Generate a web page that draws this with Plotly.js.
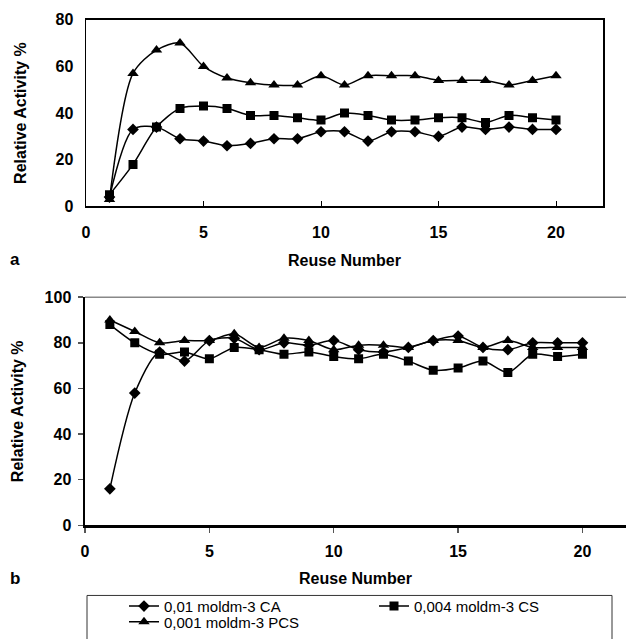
<!DOCTYPE html>
<html>
<head>
<meta charset="utf-8">
<script src="https://cdn.plot.ly/plotly-3.0.1.min.js"></script>
<style>html,body{margin:0;padding:0;background:#fff;}#chart{width:626px;height:639px;}</style>
</head>
<body>
<div id="chart"></div>
<script>
// Reuse numbers
const reuse = [1,2,3,4,5,6,7,8,9,10,11,12,13,14,15,16,17,18,19,20];

// Panel a
const a_CA  = [4,33,34,29,28,26,27,29,29,32,32,28,32,32,30,34,33,34,33,33];
const a_CS  = [5,18,34,42,43,42,39,39,38,37,40,39,37,37,38,38,36,39,38,37];
const a_PCS = [3,57,67,70,60,55,53,52,52,56,52,56,56,56,54,54,54,52,54,56];

// Panel b
const b_CA  = [16,58,76,72,81,82,77,80,79,81,77,76,78,81,83,78,77,80,80,80];
const b_CS  = [88,80,75,76,73,78,77,75,76,74,73,75,72,68,69,72,67,75,74,75];
const b_PCS = [90,85,80,81,81,84,78,82,81,77,79,79,78,81,81,78,81,78,78,78];

const names = ['0,01 moldm-3 CA','0,004 moldm-3 CS','0,001 moldm-3 PCS'];
const symbols = ['diamond','square','triangle-up'];
const sizes = [9,9,10];
const legendIds = ['legend','legend2','legend3'];

const W = 626, H = 639;
const FONT = 'Liberation Sans, Arial, sans-serif';

function tr(y, i, xa, ya, show) {
  return {
    x: reuse, y: y, name: names[i], xaxis: xa, yaxis: ya,
    type: 'scatter', mode: 'lines+markers', showlegend: show, legend: legendIds[i],
    line: {color: '#000', width: 1.5, shape: 'spline', smoothing: 0.8},
    marker: {symbol: symbols[i], size: sizes[i], color: '#000'}
  };
}

const data = [
  tr(a_CA,0,'x','y',true), tr(a_CS,1,'x','y',true), tr(a_PCS,2,'x','y',true),
  tr(b_CA,0,'x2','y2',false), tr(b_CS,1,'x2','y2',false), tr(b_PCS,2,'x2','y2',false)
];

const tickf = {family: FONT, size: 16, color: '#000', weight: 'bold'};
const titf = {family: FONT, size: 16, color: '#000', weight: 'bold'};
const legf = {family: FONT, size: 15, color: '#000'};

function leg(xText, yc) {
  return {orientation: 'v', x: (xText - 40)/W, y: 1 - yc/H, xanchor: 'left', yanchor: 'middle',
          bgcolor: 'rgba(0,0,0,0)', borderwidth: 0, font: legf, itemwidth: 30,
          tracegroupgap: 0};
}

const layout = {
  width: W, height: H,
  margin: {l:0, r:0, t:0, b:0},
  paper_bgcolor: '#fff', plot_bgcolor: '#fff',
  showlegend: true,
  font: {family: FONT, color: '#000'},
  xaxis: {
    domain: [86/W, 603/W], anchor: 'y', range: [0,22], tickvals: [0,5,10,15,20],
    showgrid: false, zeroline: false, showline: true, linecolor: '#000', linewidth: 1.5,
    mirror: true, ticks: 'inside', ticklen: 5, tickcolor: '#000',
    tickfont: tickf, ticklabelstandoff: 11,
    title: {text: 'Reuse Number', font: titf, standoff: 14}
  },
  yaxis: {
    domain: [1-209/H, 1-20/H], anchor: 'x', range: [0,80], tickvals: [0,20,40,60,80],
    showgrid: false, zeroline: false, showline: true, linecolor: '#000', linewidth: 1.5,
    mirror: true, ticks: '', tickfont: tickf, ticklabelstandoff: 8,
    title: {text: 'Relative Activity %', font: titf, standoff: 25}
  },
  xaxis2: {
    domain: [85/W, 1], anchor: 'y2', range: [0,21.75], tickvals: [0,5,10,15,20],
    showgrid: false, zeroline: false, showline: true, linecolor: '#000', linewidth: 2.5,
    ticks: 'outside', ticklen: 5, tickcolor: '#555', tickwidth: 1.5,
    tickfont: tickf, ticklabelstandoff: 5,
    title: {text: 'Reuse Number', font: titf, standoff: 14}
  },
  yaxis2: {
    domain: [1-532/H, 1-301/H], anchor: 'x2', range: [0,100], tickvals: [0,20,40,60,80,100],
    showgrid: false, zeroline: false, showline: true, linecolor: '#000', linewidth: 2.5,
    ticks: 'outside', ticklen: 5, tickcolor: '#555', tickwidth: 1.5,
    tickfont: tickf, ticklabelstandoff: 3,
    title: {text: 'Relative Activity %', font: titf, standoff: 17}
  },
  shapes: [
    {type:'line', xref:'paper', yref:'y2 domain', x0:85/W, x1:1, y0:1, y1:1,
     line:{color:'#888', width:1.5}},
    {type:'rect', xref:'paper', yref:'paper', x0:87/W, x1:612/W, y0:-0.05, y1:1-603/H,
     line:{color:'#333', width:1}, fillcolor:'rgba(0,0,0,0)'}
  ],
  annotations: [
    {text:'a', xref:'paper', yref:'paper', x:15/W, y:1-263/H, showarrow:false,
     xanchor:'center', yanchor:'middle', font:{family:FONT, size:17, color:'#000', weight:'bold'}},
    {text:'b', xref:'paper', yref:'paper', x:15/W, y:1-586/H, showarrow:false,
     xanchor:'center', yanchor:'middle', font:{family:FONT, size:17, color:'#000', weight:'bold'}}
  ],
  legend: leg(164, 614),
  legend2: leg(414, 614),
  legend3: leg(164, 630)
};

Plotly.newPlot('chart', data, layout, {displayModeBar: false, staticPlot: true});
</script>
</body>
</html>
